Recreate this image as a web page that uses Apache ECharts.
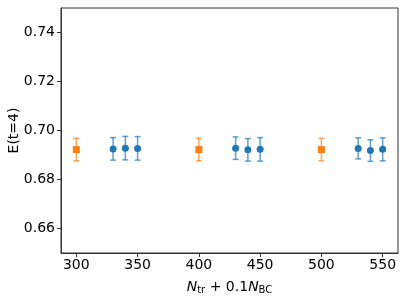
<!DOCTYPE html>
<html>
<head>
<meta charset="utf-8">
<script src="https://cdn.jsdelivr.net/npm/echarts@6/dist/echarts.min.js"></script>
<style>
  html, body { margin: 0; padding: 0; background: #fff; }
  #chart { width: 407px; height: 297px; }
</style>
</head>
<body>
<div id="chart"></div>
<script>
(function() {
    var myChart = echarts.init(document.getElementById('chart'));

    // orange squares
    var refX = [300, 400, 500];
    var refY = [0.6922, 0.6922, 0.6922];
    var refErr = [0.0046, 0.0046, 0.0046];

    // blue circles
    var ptX = [330, 340, 350, 430, 440, 450, 530, 540, 550];
    var ptY = [0.6925, 0.6928, 0.6927, 0.6928, 0.6921, 0.6923, 0.6927, 0.6918, 0.6923];
    var ptErr = [0.0046, 0.0048, 0.0048, 0.0046, 0.0046, 0.0048, 0.0043, 0.0044, 0.0047];

    var xTicks = [300, 350, 400, 450, 500, 550];
    var yTicks = [0.66, 0.68, 0.70, 0.72, 0.74];

    var blue = '#1f77b4';
    var orange = '#ff7f0e';
    var font = 'DejaVu Sans';

    function errData(xs, ys, es) {
        return xs.map(function(x, i) { return [x, ys[i] - es[i], ys[i] + es[i]]; });
    }
    function pts(xs, ys) {
        return xs.map(function(x, i) { return [x, ys[i]]; });
    }
    function errSeries(data, color) {
        return {
            type: 'custom',
            data: data,
            silent: true,
            z: 2,
            renderItem: function(params, api) {
                var lo = api.coord([api.value(0), api.value(1)]);
                var hi = api.coord([api.value(0), api.value(2)]);
                var w = 3;
                var st = { stroke: color, lineWidth: 1.5, opacity: 0.7 };
                return {
                    type: 'group',
                    children: [
                        { type: 'line', shape: { x1: lo[0], y1: lo[1], x2: hi[0], y2: hi[1] }, style: st },
                        { type: 'line', shape: { x1: lo[0] - w, y1: lo[1], x2: lo[0] + w, y2: lo[1] }, style: st },
                        { type: 'line', shape: { x1: hi[0] - w, y1: hi[1], x2: hi[0] + w, y2: hi[1] }, style: st }
                    ]
                };
            }
        };
    }

    var option = {
        animation: false,
        grid: {
            left: 61, right: 9, top: 8, bottom: 44,
            outerBoundsMode: 'none',
            containLabel: false,
            show: true, borderColor: '#333', borderWidth: 1
        },
        xAxis: {
            type: 'value',
            min: 287.5, max: 562.5,
            splitLine: { show: false },
            axisLine: { lineStyle: { color: '#333' } },
            axisTick: { show: true, customValues: xTicks, length: 4, lineStyle: { color: '#333' } },
            axisLabel: {
                customValues: xTicks, color: '#000', fontSize: 14, fontFamily: font, margin: 5
            },
            name: '{i|N}{s|tr}{n| + 0.1}{i|N}{s|BC}',
            nameLocation: 'middle',
            nameGap: 27,
            nameMoveOverlap: false,
            nameTextStyle: {
                rich: {
                    i: { fontSize: 14, fontStyle: 'italic', fontFamily: font, color: '#000' },
                    n: { fontSize: 14, fontFamily: font, color: '#000' },
                    s: { fontSize: 10, fontFamily: font, color: '#000', padding: [5, 0, 0, 0] }
                }
            }
        },
        yAxis: {
            type: 'value',
            min: 0.65, max: 0.75,
            splitLine: { show: false },
            axisLine: { show: true, lineStyle: { color: '#333' } },
            axisTick: { show: true, customValues: yTicks, length: 4, lineStyle: { color: '#333' } },
            axisLabel: {
                customValues: yTicks, color: '#000', fontSize: 14, fontFamily: font, margin: 6,
                formatter: function(v) { return v.toFixed(2); }
            },
            name: 'E(t=4)',
            nameLocation: 'middle',
            nameGap: 40,
            nameMoveOverlap: false,
            nameRotate: 90,
            nameTextStyle: { fontSize: 14, fontFamily: font, color: '#000' }
        },
        series: [
            errSeries(errData(refX, refY, refErr), orange),
            errSeries(errData(ptX, ptY, ptErr), blue),
            {
                type: 'scatter',
                data: pts(refX, refY),
                symbol: 'rect',
                symbolSize: 7,
                itemStyle: { color: orange, opacity: 1 },
                z: 3
            },
            {
                type: 'scatter',
                data: pts(ptX, ptY),
                symbol: 'circle',
                symbolSize: 7,
                itemStyle: { color: blue, opacity: 1 },
                z: 3
            }
        ]
    };

    myChart.setOption(option);
})();
</script>
</body>
</html>
